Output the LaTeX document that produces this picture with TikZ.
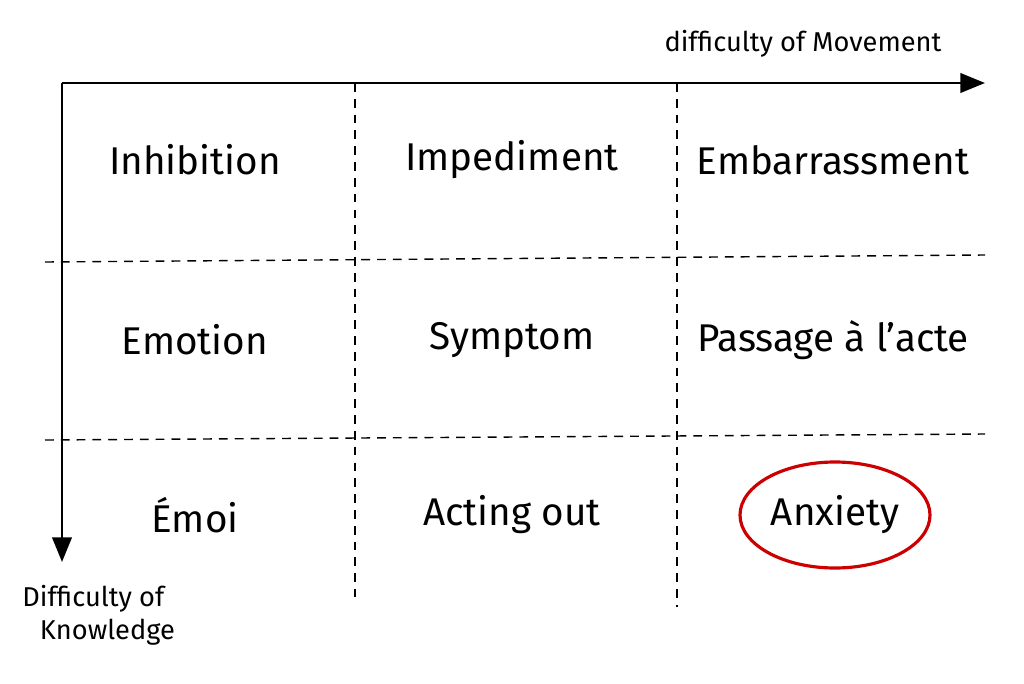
\documentclass[tikz,border=0pt]{standalone}
\usepackage{fontspec}
\setmainfont{Fira Sans}
\usetikzlibrary{arrows.meta}
\tikzset{
  cell/.style={font=\fontsize{22}{26}\selectfont},
  axislabel/.style={font=\fontsize{15.5}{19}\selectfont, align=left},
  grid/.style={thick, dashed, dash pattern=on 5pt off 4pt},
  axis/.style={line width=1.6pt, -{Triangle[length=14pt,width=11pt]}}
}
\begin{document}
\begin{tikzpicture}[x=0.02cm, y=-0.02cm]
  \useasboundingbox[fill=white] (0,0) rectangle (1024,683);
  % axes
  \coordinate (o) at (62,83);
  \coordinate (xend) at (985,83);
  \coordinate (yend) at (62,562);
  \draw[axis] (o) -- (xend);
  \draw[axis] (o) -- (yend);
  \node[axislabel, anchor=south] (xlab) at (803,64) {difficulty of Movement};
  \node[axislabel, anchor=north west, inner sep=0pt] (ylab) at (22,585) {Difficulty of\\\hspace*{10pt}Knowledge};
  % dashed grid
  \coordinate (v1a) at (355,83); \coordinate (v1b) at (355,597);
  \coordinate (v2a) at (677,83); \coordinate (v2b) at (677,607);
  \coordinate (h1a) at (45,262); \coordinate (h1b) at (985,255);
  \coordinate (h2a) at (45,440); \coordinate (h2b) at (985,434);
  \draw[grid] (v1a) -- (v1b);
  \draw[grid] (v2a) -- (v2b);
  \draw[grid] (h1a) -- (h1b);
  \draw[grid] (h2a) -- (h2b);
  % cells
  \foreach \name/\x/\y/\txt in {inh/195/160/Inhibition, imp/512/160/Impediment, emb/833/160/Embarrassment,
      emo/195/340/Emotion, sym/512/340/Symptom, pas/833/340/Passage à l’acte,
      emoi/195/515/Émoi, act/512/515/Acting out, anx/835/515/Anxiety}{
    \node[cell] (\name) at (\x,\y) {\txt};
  }
  \draw[red!80!black, line width=1.8pt] (anx) ellipse (95 and 53);
\end{tikzpicture}
\end{document}
